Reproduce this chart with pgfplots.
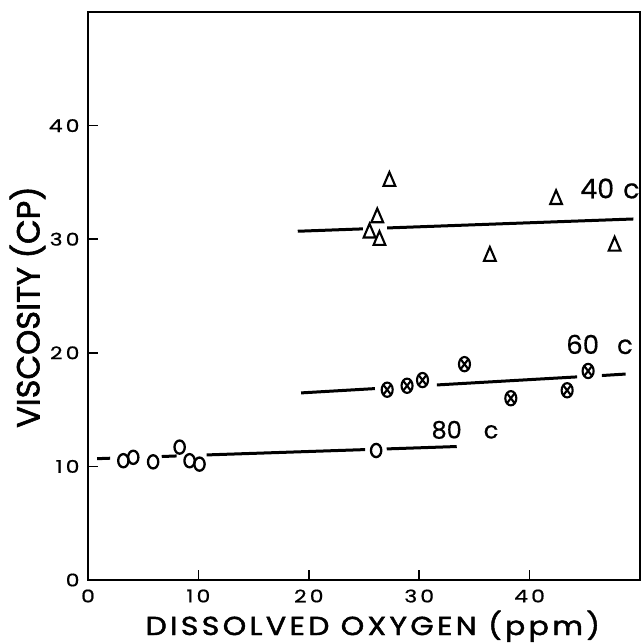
\documentclass[border=0pt]{standalone}
\usepackage{fontspec}
\setmainfont{Poppins}
\newfontfamily\tickfont[FakeStretch=1.25,LetterSpace=18,FakeBold=0.8]{Poppins}
\newfontfamily\ylabfont[LetterSpace=0,FakeBold=1.8]{Poppins}
\newfontfamily\xlabfont[FakeStretch=1.15,LetterSpace=13,FakeBold=1.8]{Poppins}
\newfontfamily\curvefont[FakeBold=0.5]{Poppins}
\usepackage{pgfplots}
\pgfplotsset{compat=1.18}
\begin{document}
\begin{tikzpicture}
\useasboundingbox (-88pt,-63pt) rectangle (556pt,580pt);
\begin{axis}[
  at={(0,0)}, anchor=south west,
  scale only axis, width=552pt, height=568pt,
  xmin=0, xmax=50, ymin=0, ymax=50,
  xtick={0,10,20,30,40}, ytick={0,10,20,30,40},
  xtick pos=lower, ytick pos=left,
  tick align=inside, major tick length=10pt,
  axis line style={line width=1.8pt},
  major tick style={black, line width=1.6pt},
  /pgf/number format/assume math mode=true,
  tick label style={font=\tickfont\fontsize{17.5}{17.5}\selectfont},
  xticklabel style={yshift=-6pt},
  yticklabel style={xshift=-5pt},
  clip=false,
]
% 80 c
\addplot[only marks, mark=o, mark size=6.6pt, mark options={line width=2.3pt, xscale=0.78}]
  coordinates {(3.2,10.5)(4.1,10.8)(5.9,10.4)(8.3,11.7)(9.2,10.5)(10.1,10.2)(26.1,11.4)};
\addplot[black, line width=3pt] coordinates {(0.82,10.68)(2.0,10.72)};
\addplot[black, line width=3pt] coordinates {(6.68,10.87)(8.03,10.92)};
\addplot[black, line width=3pt] coordinates {(10.75,11.01)(25.1,11.48)};
\addplot[black, line width=3pt] coordinates {(27.06,11.54)(33.4,11.75)};
% 60 c
\addplot[only marks, mark=otimes, mark size=6.5pt, mark options={line width=2.1pt, xscale=0.85, yscale=1.1}]
  coordinates {(27.1,16.75)(28.9,17.1)(30.3,17.6)(34.1,19.0)(38.3,16.0)(43.4,16.7)(45.3,18.4)};
\addplot[black, line width=3pt] coordinates {(19.3,16.47)(25.99,16.85)};
\addplot[black, line width=3pt] coordinates {(31.6,17.17)(44.3,17.88)};
\addplot[black, line width=3pt] coordinates {(46.55,18.0)(48.7,18.13)};
% 40 c
\addplot[only marks, mark=triangle, mark size=6.8pt, mark options={line width=2.1pt, yscale=1.35}]
  coordinates {(27.3,35.1)(26.2,31.9)(25.5,30.55)(26.4,29.9)(36.4,28.5)(42.4,33.5)(47.7,29.4)};
\addplot[black, line width=3pt] coordinates {(19.0,30.7)(24.9,30.91)};
\addplot[black, line width=3pt] coordinates {(27.1,30.99)(49.4,31.78)};
% curve labels
\node[anchor=base west, font=\curvefont\fontsize{27}{27}\selectfont] at (axis cs:44.27,33.6) {40\hspace{9pt}c};
\node[anchor=base west, font=\curvefont\fontsize{26}{26}\selectfont] at (axis cs:43.0,19.9) {60\hspace{18pt}c};
\node[anchor=base west, font=\curvefont\fontsize{24}{24}\selectfont] at (axis cs:30.8,12.46) {80\hspace{22pt}c};
% axis labels
\node[rotate=90, anchor=center, font=\ylabfont\fontsize{32}{32}\selectfont] at ([xshift=-60.5pt]rel axis cs:0,0.4806) {VISCOSITY (CP)};
\node[anchor=base, font=\xlabfont\fontsize{26}{26}\selectfont] at ([yshift=-55pt]rel axis cs:0.516,0) {DISSOLVED OXYGEN (ppm)};
\end{axis}
\end{tikzpicture}
\end{document}
